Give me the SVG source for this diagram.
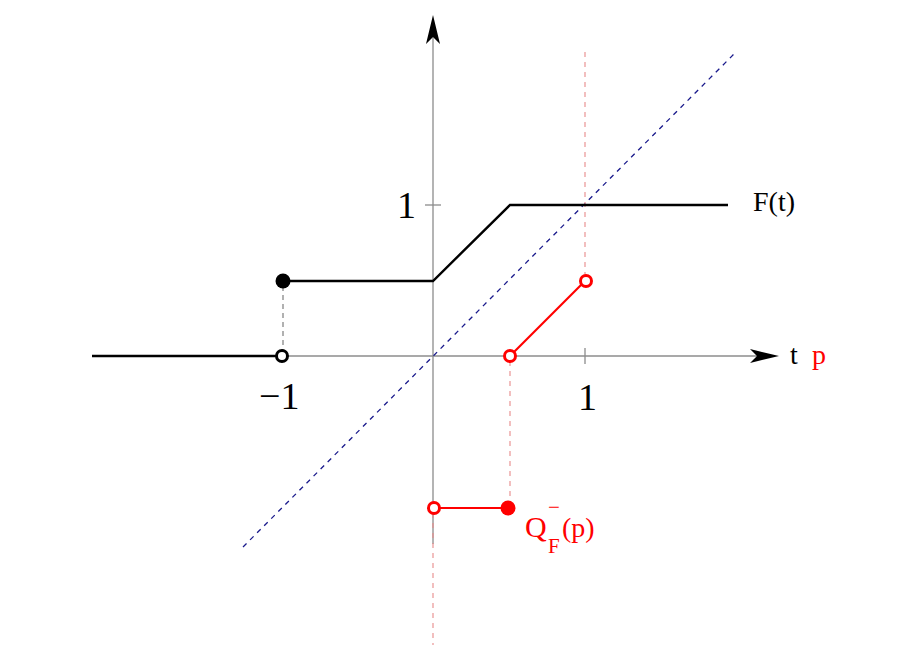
<svg xmlns="http://www.w3.org/2000/svg" width="920" height="666" viewBox="0 0 920 666">
<style>
.axis{stroke:#8c8c8c;stroke-width:1.3;fill:none}
.blk{stroke:#000;stroke-width:2.4;fill:none}
.red{stroke:#f00;stroke-width:2.2;fill:none}
.rdash{stroke:#e88a8a;stroke-width:1.1;stroke-dasharray:5,5;fill:none}
.gdash{stroke:#888;stroke-width:1.3;stroke-dasharray:5,4;fill:none}
.bdash{stroke:#1a1a8c;stroke-width:1.3;stroke-dasharray:5,5;fill:none}
text{font-family:"Liberation Serif",serif}
.big{font-size:38px;fill:#000}
.lbl{font-size:28px;fill:#000}
.q{font-size:30px}
.sub{font-size:21px}
.rl{fill:#f00}
</style>
<rect width="920" height="666" fill="#fff"/>
<g id="connectors">
  <line class="axis" x1="433" y1="544" x2="433" y2="30"/>
  <polygon points="433,15 440,44 433,37 426,44" fill="#000"/>
  <line class="axis" x1="92" y1="356" x2="765" y2="356"/>
  <polygon points="779,356 750,349 757,356 750,363" fill="#000"/>
  <line class="axis" x1="425" y1="205" x2="441" y2="205"/>
  <line class="axis" x1="585" y1="348" x2="585" y2="364"/>
  <line class="bdash" x1="243" y1="547" x2="736" y2="52"/>
  <line class="rdash" x1="585" y1="52" x2="585" y2="277"/>
  <line class="rdash" x1="510" y1="361" x2="510" y2="503"/>
  <line class="rdash" x1="433" y1="513" x2="433" y2="645"/>
  <line class="gdash" x1="283" y1="286" x2="283" y2="351"/>
</g>
<g id="F">
  <line class="blk" x1="92" y1="356" x2="277" y2="356"/>
  <polyline class="blk" points="283,281 433,281 510,205 728,205"/>
  <circle cx="283" cy="281" r="7.5" fill="#000"/>
  <circle cx="282" cy="356" r="5.5" fill="#fff" stroke="#000" stroke-width="3"/>
  <text class="lbl" x="753" y="211">F(t)</text>
</g>
<g id="Q">
  <line class="red" x1="510" y1="356" x2="585" y2="281"/>
  <circle cx="510" cy="356" r="5.5" fill="#fff" stroke="#f00" stroke-width="3"/>
  <circle cx="586" cy="281" r="5.5" fill="#fff" stroke="#f00" stroke-width="3"/>
  <line class="red" x1="434" y1="508" x2="508" y2="508"/>
  <circle cx="434" cy="508" r="5.5" fill="#fff" stroke="#f00" stroke-width="3"/>
  <circle cx="508" cy="508" r="7.5" fill="#f00"/>
  <text class="q rl" x="525" y="537">Q</text>
  <text class="sub rl" x="548" y="514">−</text>
  <text class="sub rl" x="548" y="553">F</text>
  <text class="lbl rl" x="562" y="537">(p)</text>
</g>
<g id="labels">
  <text class="big" x="397" y="218">1</text>
  <text class="big" x="259" y="409">−1</text>
  <text class="big" x="578" y="410">1</text>
  <text class="lbl" x="790" y="364">t</text>
  <text class="lbl rl" x="812" y="364">p</text>
</g>
</svg>
